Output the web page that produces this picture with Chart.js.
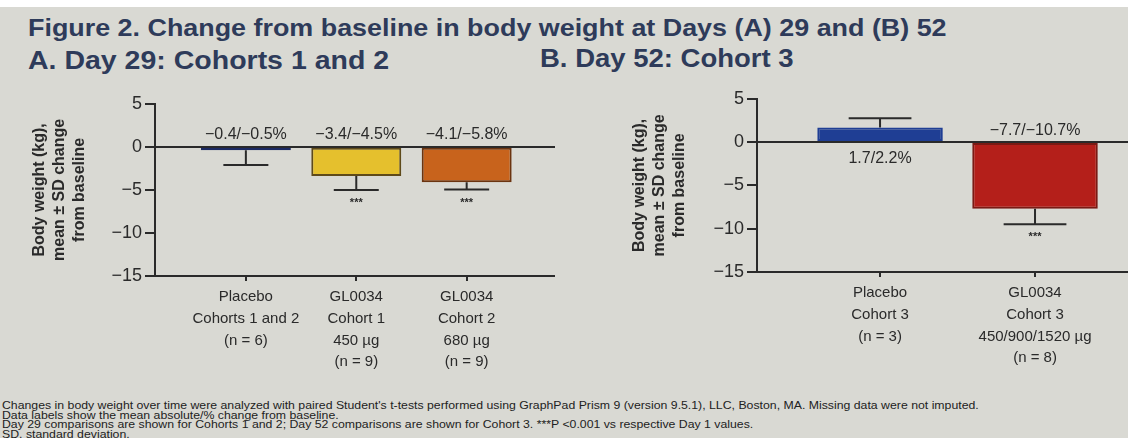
<!DOCTYPE html>
<html>
<head>
<meta charset="utf-8">
<script src="https://cdn.jsdelivr.net/npm/chart.js@4/dist/chart.umd.min.js"></script>
<style>
  body { margin: 0; width: 1128px; height: 438px; overflow: hidden;
         background: linear-gradient(#ffffff 0, #ffffff 7px, #d9d9d3 7px);
         font-family: "Liberation Sans", Arial, sans-serif; position: relative; }
  .t { position: absolute; font-weight: bold; color: #2e3b5a; white-space: nowrap; transform-origin: left; }
  .box { position: absolute; }
  .notes { position: absolute; left: 2px; top: 401px; font-size: 10.5px; line-height: 9.6px;
           color: #222; white-space: nowrap; transform: scaleX(1.17); transform-origin: left; }
</style>
</head>
<body>
<div class="t" style="left:28px;top:14px;font-size:24px;transform:scaleX(1.12)">Figure 2. Change from baseline in body weight at Days (A) 29 and (B) 52</div>
<div class="t" style="left:28px;top:46px;font-size:25px;transform:scaleX(1.14)">A. Day 29: Cohorts 1 and 2</div>
<div class="t" style="left:540px;top:44px;font-size:25px;transform:scaleX(1.1)">B. Day 52: Cohort 3</div>

<div class="box" style="left:20px;top:90px;width:535px;height:301px"><canvas id="chartA"></canvas></div>
<div class="box" style="left:620px;top:85px;width:508px;height:302px"><canvas id="chartB"></canvas></div>

<div class="notes">
Changes in body weight over time were analyzed with paired Student's t-tests performed using GraphPad Prism 9 (version 9.5.1), LLC, Boston, MA. Missing data were not imputed.<br>
Data labels show the mean absolute/% change from baseline.<br>
Day 29 comparisons are shown for Cohorts 1 and 2; Day 52 comparisons are shown for Cohort 3. ***P &lt;0.001 vs respective Day 1 values.<br>
SD, standard deviation.
</div>

<script>
// Day 29 - cohorts 1 and 2
const groupsA = [
    ['Placebo', 'Cohorts 1 and 2', '(n = 6)'],
    ['GL0034', 'Cohort 1', '450 µg', '(n = 9)'],
    ['GL0034', 'Cohort 2', '680 µg', '(n = 9)']
];
const meanA = [-0.4, -3.4, -4.1];
const sdA = [1.7, 1.6, 0.85];
const pctA = [-0.5, -4.5, -5.8];
const starsA = ['', '***', '***'];

// Day 52 - cohort 3
const groupsB = [
    ['Placebo', 'Cohort 3', '(n = 3)'],
    ['GL0034', 'Cohort 3', '450/900/1520 µg', '(n = 8)']
];
const meanB = [1.7, -7.7];
const sdB = [1.05, 1.8];
const pctB = [2.2, -10.7];
const starsB = ['', '***'];

const yTicks = [5, 0, -5, -10, -15];

const ink = '#2a2a2a';
const minus = v => String(v).replace(/-/g, '\u2212');

// error bars, data labels and stars
const extras = {
    id: 'extras',
    afterDatasetsDraw(chart, args, opts) {
        const ctx = chart.ctx;
        const y = chart.scales.y;
        const y0 = y.getPixelForValue(0);
        const meta = chart.getDatasetMeta(0);
        ctx.save();
        meta.data.forEach((bar, i) => {
            const v = opts.mean[i];
            const dir = v < 0 ? -1 : 1;
            const yEnd = y.getPixelForValue(v + dir * opts.sd[i]);
            const cap = bar.width * 0.5;
            ctx.strokeStyle = ink;
            ctx.lineWidth = 2;
            ctx.beginPath();
            ctx.moveTo(bar.x, bar.y);
            ctx.lineTo(bar.x, yEnd);
            ctx.moveTo(bar.x - cap / 2, yEnd);
            ctx.lineTo(bar.x + cap / 2, yEnd);
            ctx.stroke();

            ctx.fillStyle = ink;
            ctx.textAlign = 'center';
            ctx.textBaseline = 'middle';
            ctx.font = '16px "Liberation Sans", Arial';
            const txt = minus(v.toFixed(1)) + '/' + minus(opts.pct[i].toFixed(1)) + '%';
            ctx.fillText(txt, bar.x, v < 0 ? y0 - 12 : y0 + 16);

            if (opts.stars[i]) {
                ctx.font = 'bold 11px "Liberation Sans", Arial';
                ctx.fillText(opts.stars[i], bar.x, yEnd + (v < 0 ? 13 : -13));
            }
        });
        ctx.restore();
    }
};

grafico = (id, groups, mean, sd, pct, stars, colors, borders, xmin, xmax, barPct, yWidth, padTop) => {
    const ctx = document.getElementById(id);
    return new Chart(ctx, {
        type: 'bar',
        data: {
            datasets: [{
                data: mean.map((v, i) => ({x: i + 1, y: v})),
                backgroundColor: colors,
                borderColor: borders,
                borderWidth: 2,
                borderSkipped: false,
                categoryPercentage: 1,
                barPercentage: barPct
            }]
        },
        options: {
            responsive: true,
            maintainAspectRatio: false,
            animation: false,
            layout: { padding: { top: padTop, right: 0, bottom: 0, left: 0 } },
            plugins: {
                legend: { display: false },
                tooltip: { enabled: false },
                extras: { mean: mean, sd: sd, pct: pct, stars: stars }
            },
            scales: {
                x: {
                    type: 'linear',
                    offset: false,
                    min: xmin,
                    max: xmax,
                    afterBuildTicks: axis => { axis.ticks = groups.map((g, i) => ({value: i + 1})); },
                    afterFit: axis => { axis.height = 115; },
                    ticks: {
                        callback: v => groups[v - 1],
                        autoSkip: false,
                        maxRotation: 0,
                        padding: 5,
                        color: ink,
                        font: { family: '"Liberation Sans", Arial', size: 15, lineHeight: 1.45 }
                    },
                    grid: { offset: false, drawOnChartArea: false, drawTicks: true, tickLength: 5, color: ink, lineWidth: 2 },
                    border: { display: true, color: ink, width: 2 }
                },
                y: {
                    min: -15,
                    max: 5,
                    afterBuildTicks: axis => { axis.ticks = yTicks.map(v => ({value: v})); },
                    afterFit: axis => { axis.width = yWidth; },
                    ticks: {
                        callback: v => minus(v),
                        padding: 3,
                        color: ink,
                        font: { family: '"Liberation Sans", Arial', size: 18 }
                    },
                    grid: {
                        color: c => c.tick && c.tick.value === 0 ? ink : 'rgba(0,0,0,0)',
                        tickColor: ink,
                        tickLength: 10,
                        lineWidth: 2
                    },
                    border: { display: true, color: ink, width: 2 },
                    title: {
                        display: true,
                        text: ['Body weight (kg),', 'mean \u00b1 SD change', 'from baseline'],
                        color: ink,
                        padding: { top: 10, bottom: 0 },
                        font: { family: '"Liberation Sans", Arial', size: 16, weight: 'bold', lineHeight: 1.25 }
                    }
                }
            }
        },
        plugins: [extras]
    });
}

grafico('chartA', groupsA, meanA, sdA, pctA, starsA,
    ['#1b2a63', '#e5c02d', '#c8631c'], ['#1b2a63', '#5e4a1a', '#6b3410'],
    0.177, 3.80, 0.815, 135, 11.5);
grafico('chartB', groupsB, meanB, sdB, pctB, starsB,
    ['#1f3e94', '#b41f1a'], ['#1f3e94', '#7a1a14'],
    0.206, 2.6, 0.81, 137, 12);
</script>
</body>
</html>
